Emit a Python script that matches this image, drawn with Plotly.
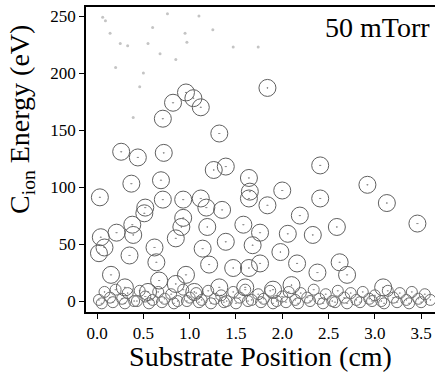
import plotly.graph_objects as go

# Main (larger) ion energy circles: substrate position (cm), energy (eV)
pos_main = [0.96, 0.82, 1.12, 0.71, 1.04, 1.32, 0.26, 0.44, 0.72, 1.26, 1.39, 1.64, 0.37, 0.69, 0.03,
            1.84, 2.41, 2.92, 2.00, 3.13, 3.46, 2.41, 1.84, 2.19, 2.59, 2.33, 2.06, 1.76, 1.98, 2.16,
            2.38, 2.62, 2.70, 3.09, 1.76, 0.93, 1.12, 0.71, 1.64, 0.51, 0.93, 1.18, 1.58, 0.04, 0.21,
            0.39, 0.62, 0.85, 1.14, 1.39, 0.02, 0.64, 1.21, 1.47, 0.15, 0.96, 0.67, 1.32, 1.64, 0.35,
            1.68, 0.38, 0.91, 0.52, 1.35, 1.65, 1.19, 0.08, 0.30, 0.55, 0.85, 1.05, 1.60, 1.90, 2.10]
energy_main = [183, 174, 170, 160, 178, 147, 131, 126, 130, 115, 118, 108, 103, 106, 91,
               187, 119, 102, 97, 86, 68, 90, 84, 75, 65, 58, 59, 60, 43, 33,
               25, 34, 23, 12, 33, 89, 90, 89, 90, 77, 73, 82, 67, 56, 60,
               58, 47, 55, 46, 52, 42, 34, 32, 29, 23, 23, 18, 12, 29, 40,
               49, 67, 65, 82, 80, 96, 65, 47, 12, 8, 15, 8, 12, 10, 14]

# Low-energy band of smaller circles
pos_low = [0.02, 0.08, 0.14, 0.20, 0.27, 0.33, 0.40, 0.46, 0.52, 0.60, 0.66, 0.73, 0.80, 0.87,
           0.93, 1.00, 1.07, 1.13, 1.20, 1.27, 1.34, 1.40, 1.47, 1.54, 1.60, 1.67, 1.74, 1.80,
           1.87, 1.94, 2.00, 2.07, 2.14, 2.20, 2.27, 2.34, 2.40, 2.47, 2.54, 2.60, 2.67, 2.74,
           2.80, 2.87, 2.94, 3.00, 3.07, 3.14, 3.20, 3.27, 3.34, 3.40, 3.47, 3.54, 3.60,
           0.05, 0.17, 0.30, 0.43, 0.56, 0.70, 0.83, 0.97, 1.10, 1.23, 1.37, 1.50, 1.63, 1.77,
           1.90, 2.04, 2.17, 2.30, 2.44, 2.57, 2.70, 2.84, 2.97, 3.10, 3.24, 3.37, 3.50]
energy_low = [1, 8, 3, 10, 2, 7, 0, 9, 4, 1, 8, 2, 6, 0,
              10, 3, 7, 1, 9, 2, 5, 0, 8, 3, 10, 1, 6, 2,
              9, 0, 4, 8, 1, 7, 3, 10, 2, 6, 0, 9, 3, 7,
              1, 8, 2, 5, 0, 9, 3, 7, 1, 8, 2, 6, 1,
              -2, -1, -2, 0, -2, -1, -2, 0, -1, -2, -1, -2, 0, -1,
              -2, -1, -2, 0, -2, -1, -2, -1, 0, -2, -1, -2, -1]

# Faint specks at high energy
pos_faint = [0.09, 0.25, 0.33, 0.55, 0.68, 0.95, 0.97, 1.25, 1.47, 1.74, 0.76, 0.14, 0.46, 0.39,
             0.06, 0.60, 1.10, 0.20, 0.50, 0.85]
energy_faint = [246, 226, 224, 226, 217, 235, 227, 238, 223, 223, 252, 235, 188, 161,
                249, 240, 250, 205, 200, 212]

x_ticks = [0.0, 0.5, 1.0, 1.5, 2.0, 2.5, 3.0, 3.5]
x_tick_labels = ["0.0", "0.5", "1.0", "1.5", "2.0", "2.5", "3.0", "3.5"]
y_ticks = [0, 50, 100, 150, 200, 250]

fig = go.Figure()
fig.add_trace(go.Scatter(x=pos_faint, y=energy_faint, mode="markers",
                         marker=dict(size=3, color="#c4c4c4"), showlegend=False))
fig.add_trace(go.Scatter(x=pos_low, y=energy_low, mode="markers",
                         marker=dict(symbol="circle-open-dot", size=11,
                                     color="#707070", line=dict(width=1, color="#707070")),
                         showlegend=False))
fig.add_trace(go.Scatter(x=pos_main, y=energy_main, mode="markers",
                         marker=dict(symbol="circle-open-dot", size=17,
                                     color="#606060", line=dict(width=1, color="#606060")),
                         showlegend=False))

font_family = "Liberation Serif"
fig.update_layout(
    width=436, height=372,
    margin=dict(l=86, r=1, t=7, b=60),
    paper_bgcolor="white", plot_bgcolor="white",
    font=dict(family=font_family, color="black"),
    xaxis=dict(range=[-0.12, 3.65], tickvals=x_ticks, ticktext=x_tick_labels,
               showgrid=False, zeroline=False, showline=True, linecolor="black", linewidth=1.5,
               mirror=True, ticks="outside", ticklen=5, tickcolor="black",
               tickfont=dict(size=17, family=font_family),
               title=dict(text="Substrate Position (cm)", font=dict(size=28, family=font_family),
                          standoff=2)),
    yaxis=dict(range=[-9.6, 258], tickvals=y_ticks,
               showgrid=False, zeroline=False, showline=True, linecolor="black", linewidth=1.5,
               ticks="outside", ticklen=5, tickcolor="black",
               tickfont=dict(size=17, family=font_family)),
    annotations=[
        dict(text="50 mTorr", x=1, y=1, xref="paper", yref="paper", xanchor="right",
             yanchor="top", xshift=-3, yshift=-3, showarrow=False,
             font=dict(size=28, family=font_family)),
        dict(text="C<sub>ion</sub> Energy (eV)", x=(22 - 86) / 349, y=(312 - 120) / 305,
             xref="paper", yref="paper", xanchor="center", yanchor="middle",
             textangle=-90, showarrow=False, font=dict(size=28, family=font_family)),
    ],
)

fig.write_html("out.html", config={"displayModeBar": False},
               post_script="document.body.style.margin='0';")
